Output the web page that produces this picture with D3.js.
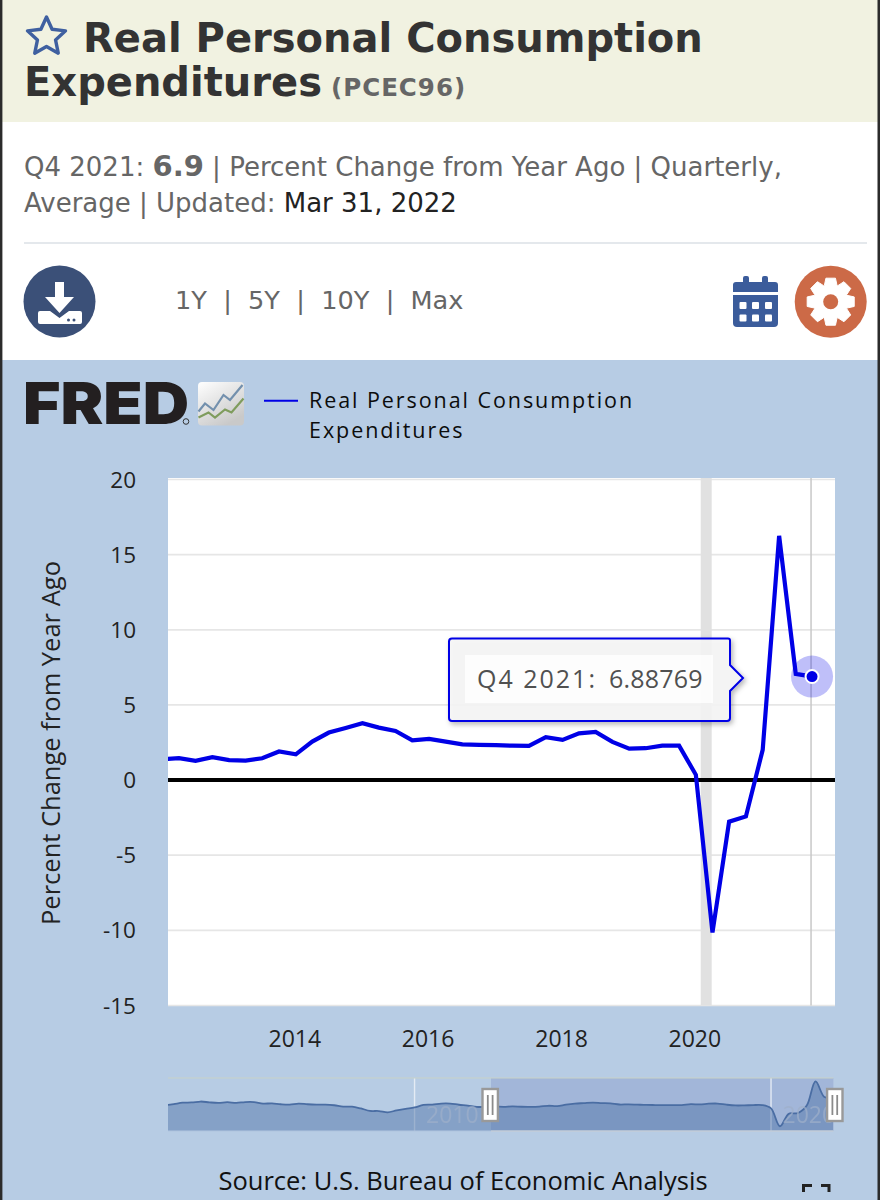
<!DOCTYPE html>
<html><head><meta charset="utf-8">
<script src="https://d3js.org/d3.v7.min.js"></script>
<style>html,body{margin:0;padding:0;background:#fff}svg{display:block}</style>
</head><body><svg id="c" width="880" height="1200" xmlns="http://www.w3.org/2000/svg"></svg>
<script>
// ---- data ----
const quarters = ["2012-01","2012-04","2012-07","2012-10","2013-01","2013-04","2013-07","2013-10","2014-01","2014-04","2014-07","2014-10","2015-01","2015-04","2015-07","2015-10","2016-01","2016-04","2016-07","2016-10","2017-01","2017-04","2017-07","2017-10","2018-01","2018-04","2018-07","2018-10","2019-01","2019-04","2019-07","2019-10","2020-01","2020-04","2020-07","2020-10","2021-01","2021-04","2021-07","2021-10"];
const pceValues = [1.38,1.46,1.28,1.53,1.33,1.3,1.45,1.9,1.71,2.56,3.16,3.47,3.78,3.49,3.27,2.65,2.74,2.56,2.38,2.34,2.32,2.29,2.27,2.85,2.67,3.11,3.2,2.54,2.09,2.12,2.29,2.29,0.35,-10.14,-2.77,-2.42,2.01,16.25,7.07,6.88769];
const earlyQuarters = ["2003-01","2003-04","2003-07","2003-10","2004-01","2004-04","2004-07","2004-10","2005-01","2005-04","2005-07","2005-10","2006-01","2006-04","2006-07","2006-10","2007-01","2007-04","2007-07","2007-10","2008-01","2008-04","2008-07","2008-10","2009-01","2009-04","2009-07","2009-10","2010-01","2010-04","2010-07","2010-10","2011-01","2011-04","2011-07","2011-10"];
const earlyValues = [2.2,2.9,3.7,3.85,4.4,3.9,3.6,4.0,3.6,4.1,4.1,3.2,3.3,2.8,2.6,3.2,2.8,2.6,2.6,2.2,1.4,1.4,0.3,-1.1,-1.2,-2.0,-0.8,0.1,0.9,2.4,2.6,3.2,3.2,2.5,2.0,1.2];
const yTicks = [20,15,10,5,0,-5,-10,-15];
const xTickYears = [2014,2016,2018,2020];
const navTickYears = [2010,2020];
const recession = ["2020-02","2020-04"];
const viewStart = "2012-02", viewEnd = "2022-02";
const navStart = "2003-02", navEnd = "2021-10";
const seriesName = ["Real Personal Consumption","Expenditures"];
const titleLines = ["Real Personal Consumption","Expenditures"];
const seriesId = "(PCEC96)";
const rangeLinks = "1Y  |  5Y  |  10Y  |  Max";
const yAxisTitle = "Percent Change from Year Ago";
const sourceText = "Source: U.S. Bureau of Economic Analysis";
const tipLabel = "Q4 2021:";
const tipValue = "6.88769";

// ---- setup ----
const parse = d3.utcParse("%Y-%m");
const svg = d3.select("#c");
const SANS = "'Open Sans',sans-serif", DJ = "'DejaVu Sans',sans-serif";
const BLUE = "#0000e6";
const data = quarters.map((q,i)=>({d:parse(q),v:pceValues[i]}));
const navData = earlyQuarters.map((q,i)=>({d:parse(q),v:earlyValues[i]})).concat(data);

const M = {l:168,r:835,t:478,b:1005.5};
const x = d3.scaleUtc().domain([parse(viewStart),parse(viewEnd)]).range([M.l,M.r]);
const y = d3.scaleLinear().domain([-15,20]).range([1005.5,479.5]);

function rect(g,a,b,w,h,f){return g.append("rect").attr("x",a).attr("y",b).attr("width",w).attr("height",h).attr("fill",f);}
function text(g,a,b,s,size,fill,font,extra={}){
  const t=g.append("text").attr("x",a).attr("y",b).attr("font-size",size).attr("fill",fill).attr("font-family",font).text(s);
  for(const k in extra)t.attr(k,extra[k]);return t;}

// ---- page panels ----
rect(svg,0,0,880,122,"#f1f2e1");
rect(svg,0,122,880,238,"#ffffff");
rect(svg,0,360,880,840,"#b7cce4");
rect(svg,24,242,843,2,"#e4e8ec");

// star
const starPts=d3.range(10).map(i=>{const r=i%2?9.5:20,a=-Math.PI/2+i*Math.PI/5;return [46.5+r*Math.cos(a),37+r*Math.sin(a)];});
svg.append("path").attr("d",d3.line()(starPts)+"Z").attr("fill","none").attr("stroke","#3f60a0").attr("stroke-width",3.4).attr("stroke-linejoin","round");

// title
text(svg,83,52,titleLines[0],40,"#333333",DJ,{"font-weight":700});
text(svg,24,96,titleLines[1],40,"#333333",DJ,{"font-weight":700});
text(svg,331,96,seriesId,24.5,"#666666",DJ,{"font-weight":700,"letter-spacing":1});

// subtitle
const sub1=text(svg,24,176,"",26,"#666666",DJ);
sub1.append("tspan").text("Q4 2021: ");
sub1.append("tspan").attr("font-weight",700).attr("font-size",29).text("6.9");
sub1.append("tspan").text(" | Percent Change from Year Ago | Quarterly,");
const sub2=text(svg,24,212,"",26,"#666666",DJ);
sub2.append("tspan").text("Average | Updated: ");
sub2.append("tspan").attr("fill","#222").text("Mar 31, 2022");
text(svg,175,309,rangeLinks,25.6,"#666666",DJ,{"xml:space":"preserve",style:"white-space:pre"});

// download icon
const dl=svg.append("g");
dl.append("circle").attr("cx",59.5).attr("cy",301.5).attr("r",36).attr("fill","#3b5078");
dl.append("path").attr("fill","#fff").attr("d","M55 282H64V297H74L59.5 313L45 297H55Z");
dl.append("path").attr("fill","#fff").attr("d","M40 311H50L59.5 318L69 311H80Q82 311 82 313V322Q82 324 80 324H40Q38 324 38 322V313Q38 311 40 311Z");
dl.append("circle").attr("cx",68.5).attr("cy",320).attr("r",1.5).attr("fill","#3b5078");
dl.append("circle").attr("cx",74).attr("cy",320).attr("r",1.5).attr("fill","#3b5078");

// calendar icon
const cal=svg.append("g").attr("fill","#3b5c9b");
cal.append("path").attr("d","M743 282V278Q743 276 745 276H747Q749 276 749 278V282H762V278Q762 276 764 276H766Q768 276 768 278V282H775Q778 282 778 285V292H733V285Q733 282 736 282Z");
cal.append("path").attr("d","M733 295H778V323Q778 327 774 327H737Q733 327 733 323Z");
[739.5,752,765].forEach(a=>[302,314.5].forEach(b=>rect(svg,a,b,7,7,"#fff").attr("rx",1)));

// gear icon
svg.append("circle").attr("cx",830.7).attr("cy",301.7).attr("r",36).attr("fill","#cc6a47");
const gearPts=[];
d3.range(8).forEach(i=>{const a=i*Math.PI/4-Math.PI/2,w=0.2,g=0.17;
  [[17.5,-w-g],[24,-w],[24,w],[17.5,w+g]].forEach(([r,o])=>gearPts.push([830.7+r*Math.cos(a+o),301.7+r*Math.sin(a+o)]));});
svg.append("path").attr("d",d3.line()(gearPts)+"Z").attr("fill","#fff").attr("stroke","#fff").attr("stroke-width",1).attr("stroke-linejoin","round");
svg.append("circle").attr("cx",830.7).attr("cy",301.7).attr("r",7.5).attr("fill","#cc6a47");

// ---- FRED logo + legend ----
text(svg,23,424,"FRED",58,"#231f20","Inter,sans-serif",{"font-weight":900,textLength:166,lengthAdjust:"spacingAndGlyphs"});
svg.append("circle").attr("cx",186).attr("cy",421.5).attr("r",2.8).attr("fill","none").attr("stroke","#333").attr("stroke-width",1);
const defs=svg.append("defs");
const lg=defs.append("linearGradient").attr("id","logoG").attr("x1",0).attr("y1",0).attr("x2",.6).attr("y2",1);
lg.append("stop").attr("offset","0").attr("stop-color","#ffffff");
lg.append("stop").attr("offset","1").attr("stop-color","#c9c9c9");
rect(svg,198,382,46,43.5,"url(#logoG)").attr("rx",4);
svg.append("path").attr("fill","none").attr("stroke","#7390ad").attr("stroke-width",2.2).attr("d","M198.5 411.5L205 403.5L213.5 410L223.5 395L230 400L242.5 385");
svg.append("path").attr("fill","none").attr("stroke","#7f9c5d").attr("stroke-width",2.2).attr("d","M198.5 417.5L208.5 412.5L215 417.5L225 409.5L231.5 412.5L243.5 398.5");

svg.append("line").attr("x1",264).attr("x2",298).attr("y1",400.7).attr("y2",400.7).attr("stroke",BLUE).attr("stroke-width",2);
seriesName.forEach((s,i)=>text(svg,309,408+i*30,s,21.5,"#0c0c0c",SANS,{"letter-spacing":1.93}));

// ---- plot ----
rect(svg,M.l,M.t,M.r-M.l,M.b-M.t,"#ffffff");
const grid=svg.append("g");
grid.selectAll("line").data(yTicks).join("line").attr("x1",M.l).attr("x2",M.r)
  .attr("y1",d=>y(d)).attr("y2",d=>y(d)).attr("stroke","#e6e6e6").attr("stroke-width",1.7);
rect(svg,x(parse(recession[0]))-.8,M.t,x(parse(recession[1]))-x(parse(recession[0])),M.b-M.t,"#e1e1e1");
// crosshair at the selected quarter
const last=data[data.length-1];
svg.append("line").attr("x1",x(last.d)-1.5).attr("x2",x(last.d)-1.5).attr("y1",M.t).attr("y2",M.b).attr("stroke","#c8c8c8").attr("stroke-width",1.5);
svg.append("line").attr("x1",M.l).attr("x2",M.r).attr("y1",y(0)).attr("y2",y(0)).attr("stroke","#000").attr("stroke-width",4);

defs.append("clipPath").attr("id","plotClip").append("rect").attr("x",M.l).attr("y",M.t).attr("width",M.r-M.l).attr("height",M.b-M.t);
const line=d3.line().x(d=>x(d.d)).y(d=>y(d.v));
svg.append("path").datum(data).attr("clip-path","url(#plotClip)").attr("d",line).attr("fill","none")
  .attr("stroke",BLUE).attr("stroke-width",4.2).attr("stroke-linejoin","miter").attr("stroke-miterlimit",6);

// axes labels
yTicks.forEach(t=>text(svg,136,y(t)+8,t,22.5,"#222222",SANS,{"text-anchor":"end"}));
xTickYears.forEach(t=>text(svg,x(new Date(Date.UTC(t,0,1)))-1,1047,t,23,"#222222",SANS,{"text-anchor":"middle"}));
text(svg,0,0,yAxisTitle,25.5,"#222222",SANS,{"text-anchor":"middle",transform:"translate(59.5,743) rotate(-90)"});

// marker
const mx=x(last.d)-.5,my=y(last.v);
svg.append("circle").attr("cx",mx).attr("cy",my).attr("r",21).attr("fill","#0000e6").attr("fill-opacity",.25);
svg.append("circle").attr("cx",mx).attr("cy",my).attr("r",6.5).attr("fill",BLUE).attr("stroke","#fff").attr("stroke-width",2);

// tooltip
const flt=defs.append("filter").attr("id","shadow").attr("x","-10%").attr("y","-20%").attr("width","125%").attr("height","150%");
flt.append("feDropShadow").attr("dx",2).attr("dy",2.5).attr("stdDeviation",2.5).attr("flood-color","#000").attr("flood-opacity",.3);
svg.append("path").attr("filter","url(#shadow)").attr("fill","#f7f7f7").attr("fill-opacity",.88).attr("stroke",BLUE).attr("stroke-width",2)
  .attr("d","M452 638.5H728Q730 638.5 730 640.5V665L743 678L730 691V718Q730 721 727 721H452Q449 721 449 718V641.5Q449 638.5 452 638.5Z");
rect(svg,465,655,248,48,"#ffffff").attr("fill-opacity",.8);
text(svg,477,688,tipLabel,25,"#505050",SANS,{"font-weight":400,"letter-spacing":2});
text(svg,609,688,tipValue,25,"#505050",SANS,{"letter-spacing":.2});

// ---- navigator ----
const N={l:168,r:833.4,t:1078,b:1131};
const nx=d3.scaleUtc().domain([parse(navStart),parse(navEnd)]).range([N.l,N.r]);
const ny=d3.scaleLinear().domain([-12.94,18.24]).range([N.b,N.t]);
const sel0=491;
defs.append("clipPath").attr("id","navClip").append("rect").attr("x",N.l).attr("y",N.t).attr("width",N.r-N.l).attr("height",N.b-N.t);
rect(svg,sel0,N.t,N.r-sel0,N.b-N.t,"#a2b6d9");
navTickYears.forEach(t=>{
  const a=nx(new Date(Date.UTC(t,0,1)));
  svg.append("line").attr("x1",a).attr("x2",a).attr("y1",N.t).attr("y2",N.b).attr("stroke","#e4ebf4").attr("stroke-width",1.4);
});
const nav=svg.append("g").attr("clip-path","url(#navClip)");
const area=d3.area().x(d=>nx(d.d)).y0(N.b).y1(d=>ny(d.v)).curve(d3.curveCatmullRom);
nav.append("path").datum(navData).attr("d",area).attr("fill","#4f72a8").attr("fill-opacity",.48);
navTickYears.forEach(t=>{
  const a=nx(new Date(Date.UTC(t,0,1)));
  text(svg,a+11.5,1123,t,23,"#9fb0ca",SANS,{"opacity":.7});
});
nav.append("path").datum(navData).attr("d",d3.line().x(d=>nx(d.d)).y(d=>ny(d.v)).curve(d3.curveCatmullRom)).attr("fill","none").attr("stroke","#4a6da3").attr("stroke-width",1.8);
svg.append("line").attr("x1",N.l).attr("x2",N.r).attr("y1",N.t).attr("y2",N.t).attr("stroke","#c8d2c8").attr("stroke-width",1);
svg.append("line").attr("x1",sel0).attr("x2",N.r).attr("y1",N.b).attr("y2",N.b).attr("stroke","#c3ccd8").attr("stroke-width",1.5);
svg.append("line").attr("x1",N.l).attr("x2",sel0).attr("y1",N.b).attr("y2",N.b).attr("stroke","#b0c4de").attr("stroke-width",1);
[490.2,834.8].forEach(c=>{
  rect(svg,c-7.7,1089,15.4,32,"#ffffff").attr("stroke","#999999").attr("stroke-width",2.4);
  [-2.4,2.4].forEach(o=>svg.append("line").attr("x1",c+o).attr("x2",c+o).attr("y1",1095).attr("y2",1115).attr("stroke","#8a8a8a").attr("stroke-width",1.8));
});

// ---- source + fullscreen ----
text(svg,463,1190,sourceText,25.5,"#111111",SANS,{"text-anchor":"middle"});
svg.append("path").attr("d","M803.5 1192V1185.5H812M829 1192V1185.5H821").attr("fill","none").attr("stroke","#222").attr("stroke-width",3);

// ---- outer border ----
rect(svg,0,0,2.4,1200,"#2b2b2b");
rect(svg,877.5,0,2.5,1200,"#2b2b2b");
</script></body></html>
